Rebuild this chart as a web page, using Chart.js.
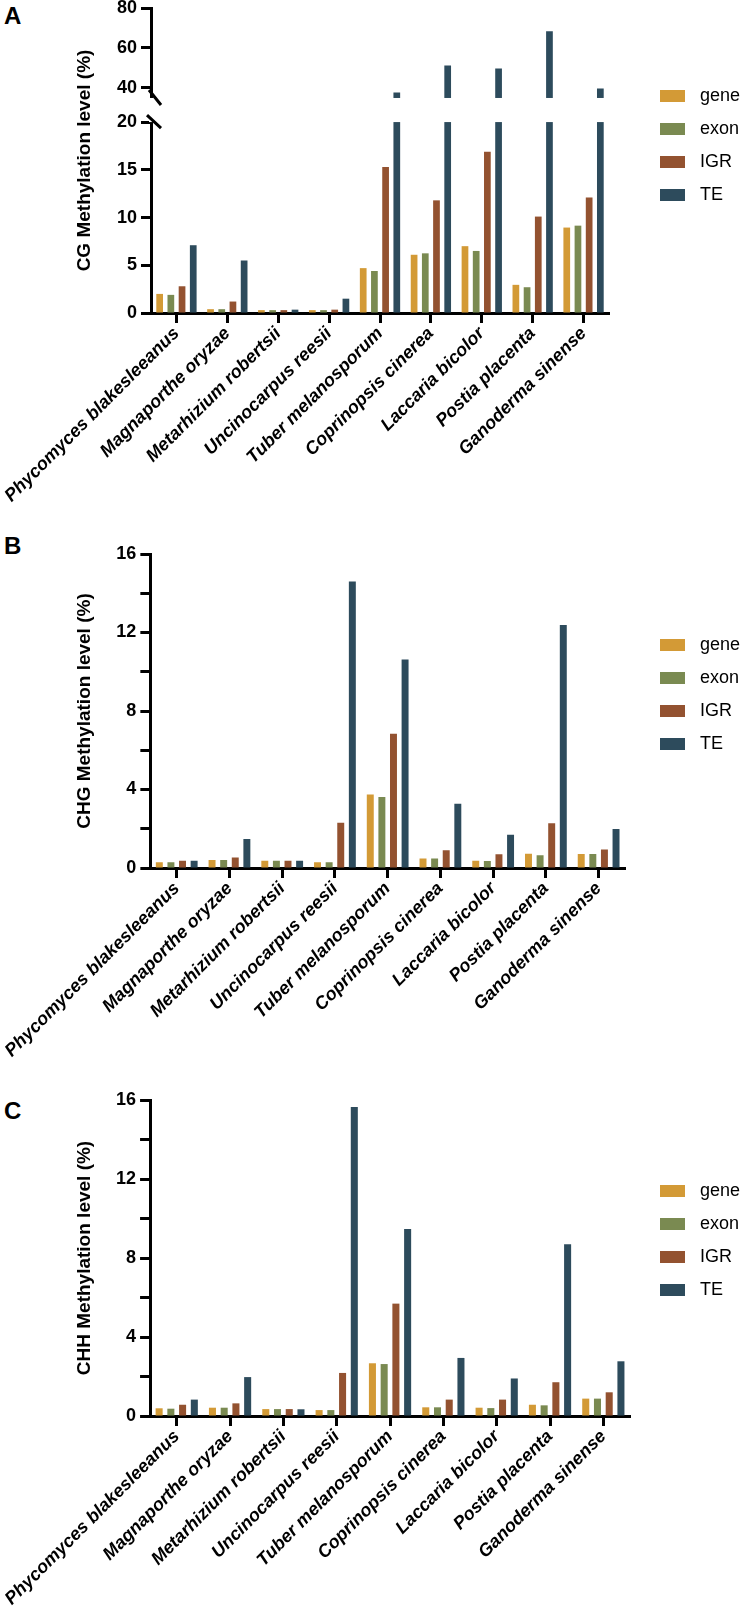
<!DOCTYPE html>
<html>
<head>
<meta charset="utf-8">
<script src="https://cdn.jsdelivr.net/npm/chart.js@4.4.0/dist/chart.umd.min.js"></script>
<style>
  body { margin: 0; background: #fff; }
  #page { position: relative; width: 743px; height: 1616px; overflow: hidden; font-family: "Liberation Sans", Arial, sans-serif; }
  canvas { position: absolute; left: 0; }
  .letter { position: absolute; left: 4px; font-size: 24px; line-height: 24px; font-weight: bold; }
  .legend { position: absolute; left: 660px; margin: 0; padding: 0; list-style: none; font-size: 18px; }
  .legend li { display: flex; align-items: center; height: 33px; }
  .legend .box { display: inline-block; width: 25px; height: 12px; margin-right: 15px; }
</style>
</head>
<body>
<div id="page">
  <div class="letter" style="top:4px">A</div>
  <div class="letter" style="top:534px">B</div>
  <div class="letter" style="top:1099px">C</div>
  <canvas id="chartA" width="743" height="545" style="top:-12px"></canvas>
  <canvas id="chartB" width="743" height="554" style="top:534px"></canvas>
  <canvas id="chartC" width="743" height="556" style="top:1080px"></canvas>
  <ul class="legend" id="legendA" style="top:79px"></ul>
  <ul class="legend" id="legendB" style="top:628px"></ul>
  <ul class="legend" id="legendC" style="top:1174px"></ul>
</div>
<script>
const species = ["Phycomyces blakesleeanus", "Magnaporthe oryzae", "Metarhizium robertsii", "Uncinocarpus reesii",
    "Tuber melanosporum", "Coprinopsis cinerea", "Laccaria bicolor", "Postia placenta", "Ganoderma sinense"];
const regions = ["gene", "exon", "IGR", "TE"];
const regionColors = ["#d39a36", "#7a8a51", "#935230", "#2d4b5c"];

// A - CG
const cgGene = [2.0, 0.4, 0.3, 0.3, 4.7, 6.1, 7.0, 2.95, 8.95];
const cgExon = [1.9, 0.4, 0.3, 0.3, 4.4, 6.25, 6.5, 2.7, 9.15];
const cgIGR = [2.8, 1.2, 0.3, 0.35, 15.3, 11.8, 16.9, 10.1, 12.1];
const cgTE = [7.1, 5.5, 0.35, 1.5, 37.8, 51.2, 49.8, 68.4, 39.7];
const cgTicks = [0, 5, 10, 15, 20, 40, 60, 80];

// B - CHG
const chgGene = [0.29, 0.41, 0.37, 0.29, 3.74, 0.49, 0.37, 0.73, 0.71];
const chgExon = [0.29, 0.41, 0.37, 0.29, 3.62, 0.49, 0.36, 0.65, 0.71];
const chgIGR = [0.37, 0.54, 0.37, 2.3, 6.84, 0.9, 0.7, 2.28, 0.94];
const chgTE = [0.37, 1.48, 0.37, 14.6, 10.63, 3.27, 1.7, 12.38, 1.99];
const chgTicks = [0, 4, 8, 12, 16];

// C - CHH
const chhGene = [0.39, 0.42, 0.35, 0.3, 2.67, 0.44, 0.42, 0.57, 0.88];
const chhExon = [0.37, 0.42, 0.35, 0.3, 2.63, 0.44, 0.4, 0.54, 0.88];
const chhIGR = [0.57, 0.64, 0.35, 2.18, 5.69, 0.83, 0.83, 1.71, 1.2];
const chhTE = [0.83, 1.97, 0.34, 15.65, 9.47, 2.94, 1.9, 8.69, 2.77];
const chhTicks = [0, 4, 8, 12, 16];

// broken y axis for panel A: 0-20 at the bottom, 35-80 on top
const brk = { lowMax: 20, highMin: 35, lowFrac: 0.626, gapFrac: 0.079 };

class BrokenScale extends Chart.LinearScale {
    getPixelForValue(value) {
        const h = this.bottom - this.top;
        const yLow = this.bottom - h * brk.lowFrac;
        const yHigh = yLow - h * brk.gapFrac;
        if (value <= brk.lowMax) {
            return this.bottom - (value - this.min) / (brk.lowMax - this.min) * (this.bottom - yLow);
        }
        if (value >= brk.highMin) {
            return yHigh - (value - brk.highMin) / (this.max - brk.highMin) * (yHigh - this.top);
        }
        return yLow - (value - brk.lowMax) / (brk.highMin - brk.lowMax) * (yLow - yHigh);
    }
    getValueForPixel(pixel) {
        const h = this.bottom - this.top;
        const yLow = this.bottom - h * brk.lowFrac;
        const yHigh = yLow - h * brk.gapFrac;
        if (pixel >= yLow) return this.min + (this.bottom - pixel) / (this.bottom - yLow) * (brk.lowMax - this.min);
        if (pixel <= yHigh) return brk.highMin + (yHigh - pixel) / (yHigh - this.top) * (this.max - brk.highMin);
        return brk.lowMax + (yLow - pixel) / (yLow - yHigh) * (brk.highMin - brk.lowMax);
    }
}
BrokenScale.id = "broken";
BrokenScale.defaults = Chart.LinearScale.defaults;
Chart.register(BrokenScale);

// white gap + slashes over the break
const axisBreak = {
    id: "axisBreak",
    afterDatasetsDraw(chart) {
        const y = chart.scales.y;
        const area = chart.chartArea;
        const ctx = chart.ctx;
        const yLow = y.getPixelForValue(brk.lowMax);
        const yHigh = y.getPixelForValue(brk.highMin);
        ctx.save();
        ctx.fillStyle = "#fff";
        ctx.fillRect(area.left - 2, yHigh, area.right - area.left + 4, yLow - yHigh);
        ctx.strokeStyle = "#000";
        ctx.lineWidth = 3;
        ctx.beginPath();
        ctx.moveTo(area.left - 2, yHigh - 8);
        ctx.lineTo(area.left + 10, yHigh + 7);
        ctx.moveTo(area.left - 4, yLow - 7);
        ctx.lineTo(area.left + 10, yLow + 6);
        ctx.stroke();
        ctx.restore();
    }
};

const htmlLegend = {
    id: "htmlLegend",
    afterUpdate(chart, args, options) {
        const ul = document.getElementById(options.containerID);
        ul.innerHTML = "";
        const items = chart.options.plugins.legend.labels.generateLabels(chart);
        items.forEach((item) => {
            const li = document.createElement("li");
            const box = document.createElement("span");
            box.className = "box";
            box.style.background = item.fillStyle;
            const text = document.createElement("span");
            text.textContent = item.text;
            li.appendChild(box);
            li.appendChild(text);
            ul.appendChild(li);
        });
    }
};

Chart.defaults.font.family = '"Liberation Sans", Arial, sans-serif';
Chart.defaults.color = "#000";

function buildDatasets(seriesList) {
    return seriesList.map((vals, i) => ({
        label: regions[i],
        data: vals,
        backgroundColor: regionColors[i],
        borderWidth: 0,
        categoryPercentage: 0.88,
        barPercentage: 0.6
    }));
}

function xAxis() {
    return {
        offset: true,
        border: { display: true, color: "#000", width: 3 },
        grid: { display: true, drawOnChartArea: false, offset: false, tickLength: 10, tickWidth: 3, tickColor: "#000" },
        ticks: {
            autoSkip: false, minRotation: 45, maxRotation: 45, padding: 0, color: "#000",
            font: { size: 18, weight: "bold", style: "italic" }
        },
        afterFit: (s) => { s.height = 220; }
    };
}

function yAxis(title, width, titlePad) {
    return {
        border: { display: true, color: "#000", width: 3 },
        grid: { display: true, drawOnChartArea: false, tickLength: 10, tickWidth: 3, tickColor: "#000" },
        ticks: { padding: 4, color: "#000", font: { size: 18, weight: "bold" } },
        title: { display: true, text: title, color: "#000", font: { size: 19, weight: "bold" }, padding: { top: titlePad, bottom: 0 } },
        afterFit: (s) => { s.width = width; }
    };
}

function makeChart(id, legendId, seriesList, yOpts, rightPad, extraPlugins) {
    return new Chart(id, {
        type: "bar",
        data: { labels: species, datasets: buildDatasets(seriesList) },
        options: {
            responsive: false,
            animation: false,
            layout: { padding: { top: 20, left: 0, right: rightPad, bottom: 0 } },
            plugins: {
                legend: { display: false },
                tooltip: { enabled: false },
                htmlLegend: { containerID: legendId }
            },
            scales: { x: xAxis(), y: yOpts }
        },
        plugins: [htmlLegend].concat(extraPlugins)
    });
}

// A
const yA = yAxis("CG Methylation level (%)", 145, 67);
yA.type = "broken";
yA.min = 0;
yA.max = 80;
yA.afterBuildTicks = (s) => { s.ticks = cgTicks.map((v) => ({ value: v })); };
makeChart("chartA", "legendA", [cgGene, cgExon, cgIGR, cgTE], yA, 134, [axisBreak]);

// B
const yB = yAxis("CHG Methylation level (%)", 150, 73);
yB.min = 0;
yB.max = 16;
yB.ticks.stepSize = 2;
yB.ticks.callback = (v) => (chgTicks.includes(v) ? v : "");
makeChart("chartB", "legendB", [chgGene, chgExon, chgIGR, chgTE], yB, 118, []);

// C
const yC = yAxis("CHH Methylation level (%)", 150, 73);
yC.min = 0;
yC.max = 16;
yC.ticks.stepSize = 2;
yC.ticks.callback = (v) => (chhTicks.includes(v) ? v : "");
makeChart("chartC", "legendC", [chhGene, chhExon, chhIGR, chhTE], yC, 113, []);
</script>
</body>
</html>
